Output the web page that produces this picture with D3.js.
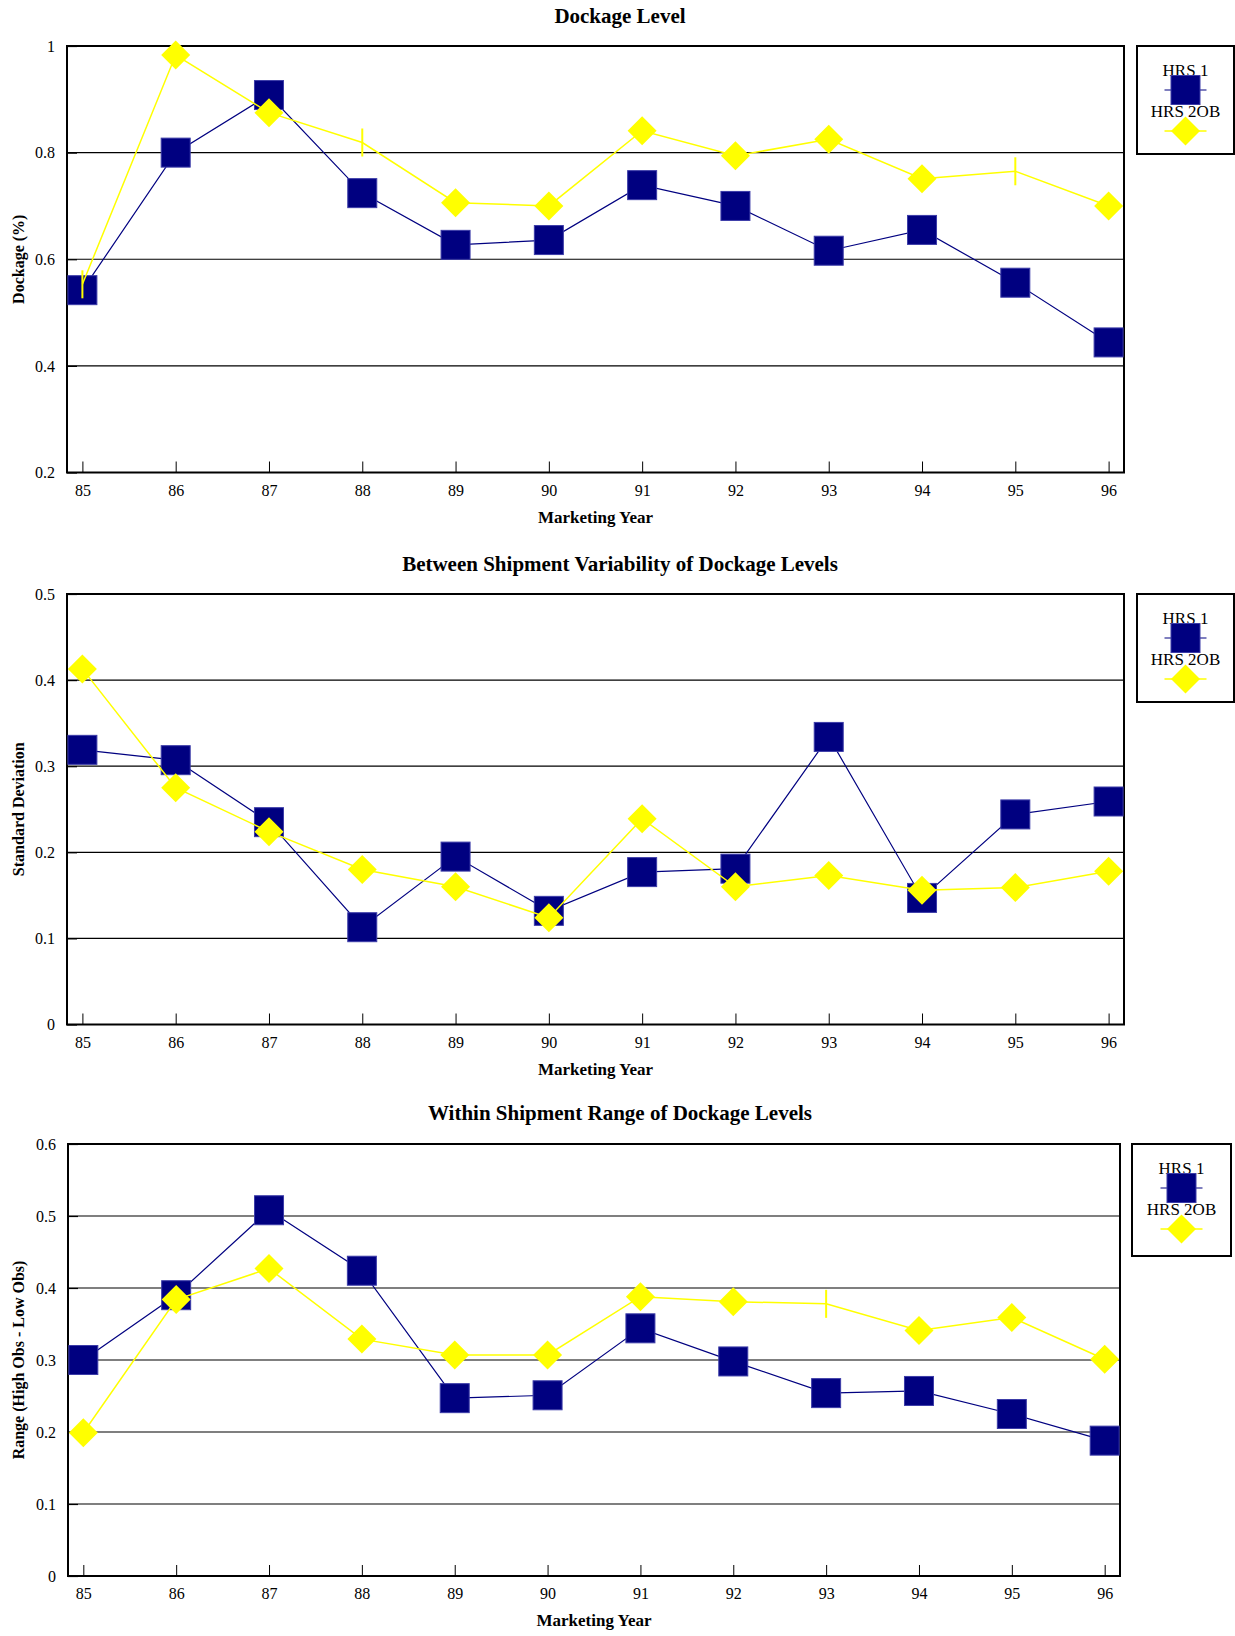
<!DOCTYPE html>
<html>
<head>
<meta charset="utf-8">
<script src="https://cdn.jsdelivr.net/npm/d3@7"></script>
<style>
  html, body { margin: 0; padding: 0; background: #ffffff; }
  svg { display: block; }
  text { font-family: "Liberation Serif", "Times New Roman", serif; fill: #000; }
</style>
</head>
<body>
<svg id="chart" width="1235" height="1636"></svg>
<script>
// Marketing years shared by all three panels
const years = ["85", "86", "87", "88", "89", "90", "91", "92", "93", "94", "95", "96"];
const seriesNames = ["HRS 1", "HRS 2OB"];

// Panel 1: average dockage level (%)
const dockageHRS1   = [0.542, 0.800, 0.908, 0.724, 0.627, 0.636, 0.739, 0.700, 0.616, 0.655, 0.556, 0.444];
const dockageHRS2OB = [0.553, 0.983, 0.875, 0.819, 0.706, 0.700, 0.841, 0.794, 0.825, 0.751, 0.765, 0.700];
const dockagePlainPoints = ["85", "88", "95"];   // HRS 2OB points drawn without a diamond
const dockageTicks = [0.2, 0.4, 0.6, 0.8, 1];

// Panel 2: between-shipment standard deviation
const sdHRS1   = [0.319, 0.307, 0.235, 0.113, 0.195, 0.132, 0.177, 0.181, 0.334, 0.147, 0.244, 0.259];
const sdHRS2OB = [0.413, 0.275, 0.224, 0.180, 0.160, 0.124, 0.239, 0.160, 0.173, 0.156, 0.159, 0.178];
const sdPlainPoints = [];
const sdTicks = [0, 0.1, 0.2, 0.3, 0.4, 0.5];

// Panel 3: within-shipment range (high obs - low obs)
const rangeHRS1   = [0.300, 0.390, 0.508, 0.424, 0.247, 0.251, 0.344, 0.298, 0.254, 0.257, 0.225, 0.188];
const rangeHRS2OB = [0.199, 0.384, 0.427, 0.329, 0.307, 0.307, 0.388, 0.381, 0.378, 0.341, 0.359, 0.301];
const rangePlainPoints = ["93"];
const rangeTicks = [0, 0.1, 0.2, 0.3, 0.4, 0.5, 0.6];

const NAVY = "#000080";
const YELLOW = "#ffff00";

const svg = d3.select("#chart");

const panels = [
  {
    title: "Dockage Level", yTitle: "Dockage (%)",
    hrs1: dockageHRS1, hrs2: dockageHRS2OB, plain: dockagePlainPoints,
    ticks: dockageTicks, domain: [0.2, 1], fmt: d => d === 1 ? "1" : d3.format(".1f")(d),
    box: { left: 67, right: 1124, top: 46, bottom: 472.5 },
    titleY: 23, legend: { left: 1137, right: 1234, top: 46, height: 108 }
  },
  {
    title: "Between Shipment Variability of Dockage Levels", yTitle: "Standard Deviation",
    hrs1: sdHRS1, hrs2: sdHRS2OB, plain: sdPlainPoints,
    ticks: sdTicks, domain: [0, 0.5], fmt: d => d === 0 ? "0" : d3.format(".1f")(d),
    box: { left: 67, right: 1124, top: 594, bottom: 1024.5 },
    titleY: 571, legend: { left: 1137, right: 1234, top: 594, height: 108 }
  },
  {
    title: "Within Shipment Range of Dockage Levels", yTitle: "Range (High Obs - Low Obs)",
    hrs1: rangeHRS1, hrs2: rangeHRS2OB, plain: rangePlainPoints,
    ticks: rangeTicks, domain: [0, 0.6], fmt: d => d === 0 ? "0" : d3.format(".1f")(d),
    box: { left: 68, right: 1120, top: 1144, bottom: 1576 },
    titleY: 1120, legend: { left: 1132, right: 1231, top: 1144, height: 112 }
  }
];

const SQ = 29;       // square marker side
const DIA = 14.5;    // diamond half-diagonal

function drawSquare(g, cx, cy) {
  g.append("rect")
    .attr("x", cx - SQ / 2).attr("y", cy - SQ / 2)
    .attr("width", SQ).attr("height", SQ)
    .attr("fill", NAVY).attr("stroke", "#3c3ca8").attr("stroke-width", 1);
}
function drawDiamond(g, cx, cy) {
  g.append("path")
    .attr("d", `M${cx},${cy - DIA}L${cx + DIA},${cy}L${cx},${cy + DIA}L${cx - DIA},${cy}Z`)
    .attr("fill", YELLOW);
}

panels.forEach(p => {
  const b = p.box;
  const g = svg.append("g");

  const x = d3.scalePoint().domain(years).range([b.left, b.right]).padding(0.165);
  const y = d3.scaleLinear().domain(p.domain).range([b.bottom, b.top]);

  // horizontal gridlines
  g.append("g").selectAll("line")
    .data(p.ticks.filter(t => t !== p.domain[0] && t !== p.domain[1]))
    .join("line")
    .attr("x1", b.left).attr("x2", b.right)
    .attr("y1", d => y(d)).attr("y2", d => y(d))
    .attr("stroke", "#000").attr("stroke-width", 1.2);

  // y axis with short inward ticks
  const yAxis = g.append("g").attr("transform", `translate(${b.left},0)`)
    .call(d3.axisLeft(y).tickValues(p.ticks).tickFormat(p.fmt).tickSize(-10).tickPadding(12));
  yAxis.select(".domain").remove();
  yAxis.selectAll(".tick line").attr("stroke", "#000").attr("stroke-width", 1.2);
  yAxis.selectAll("text").attr("font-size", 16).attr("font-family", "Liberation Serif");

  // x axis with short inward ticks
  const xAxis = g.append("g").attr("transform", `translate(0,${b.bottom})`)
    .call(d3.axisBottom(x).tickSize(-11).tickPadding(12));
  xAxis.select(".domain").remove();
  xAxis.selectAll(".tick line").attr("stroke", "#000").attr("stroke-width", 1);
  xAxis.selectAll("text").attr("font-size", 16).attr("font-family", "Liberation Serif");

  // plot frame
  g.append("rect")
    .attr("x", b.left).attr("y", b.top)
    .attr("width", b.right - b.left).attr("height", b.bottom - b.top)
    .attr("fill", "none").attr("stroke", "#000").attr("stroke-width", 2);

  // titles
  g.append("text").attr("x", 620).attr("y", p.titleY)
    .attr("text-anchor", "middle").attr("font-size", 21).attr("font-weight", "bold")
    .text(p.title);
  g.append("text").attr("x", (b.left + b.right) / 2).attr("y", b.bottom + 50)
    .attr("text-anchor", "middle").attr("font-size", 17).attr("font-weight", "bold")
    .text("Marketing Year");
  g.append("text")
    .attr("transform", `translate(24,${(b.top + b.bottom) / 2}) rotate(-90)`)
    .attr("text-anchor", "middle").attr("font-size", 16).attr("font-weight", "bold")
    .text(p.yTitle);

  const line = d3.line().x((d, i) => x(years[i])).y(d => y(d));

  // HRS 1 series
  g.append("path").datum(p.hrs1).attr("d", line)
    .attr("fill", "none").attr("stroke", NAVY).attr("stroke-width", 1.2);
  const m1 = g.append("g");
  p.hrs1.forEach((v, i) => drawSquare(m1, x(years[i]), y(v)));

  // HRS 2OB series
  g.append("path").datum(p.hrs2).attr("d", line)
    .attr("fill", "none").attr("stroke", YELLOW).attr("stroke-width", 1.5);
  const m2 = g.append("g");
  p.hrs2.forEach((v, i) => {
    const cx = x(years[i]), cy = y(v);
    if (p.plain.includes(years[i])) {
      m2.append("line").attr("x1", cx).attr("x2", cx)
        .attr("y1", cy - 14).attr("y2", cy + 14)
        .attr("stroke", YELLOW).attr("stroke-width", 2);
    } else {
      drawDiamond(m2, cx, cy);
    }
  });

  // legend
  const L = p.legend;
  const lg = g.append("g");
  lg.append("rect").attr("x", L.left).attr("y", L.top)
    .attr("width", L.right - L.left).attr("height", L.height)
    .attr("fill", "#fff").attr("stroke", "#000").attr("stroke-width", 2);
  const lc = (L.left + L.right) / 2;
  lg.append("text").attr("x", lc).attr("y", L.top + 30)
    .attr("text-anchor", "middle").attr("font-size", 17).text(seriesNames[0]);
  lg.append("line").attr("x1", lc - 21).attr("x2", lc + 21)
    .attr("y1", L.top + 44).attr("y2", L.top + 44)
    .attr("stroke", NAVY).attr("stroke-width", 1.2);
  drawSquare(lg, lc, L.top + 44);
  lg.append("text").attr("x", lc).attr("y", L.top + 71)
    .attr("text-anchor", "middle").attr("font-size", 17).text(seriesNames[1]);
  lg.append("line").attr("x1", lc - 21).attr("x2", lc + 21)
    .attr("y1", L.top + 85).attr("y2", L.top + 85)
    .attr("stroke", YELLOW).attr("stroke-width", 1.5);
  drawDiamond(lg, lc, L.top + 85);
});
</script>
</body>
</html>
